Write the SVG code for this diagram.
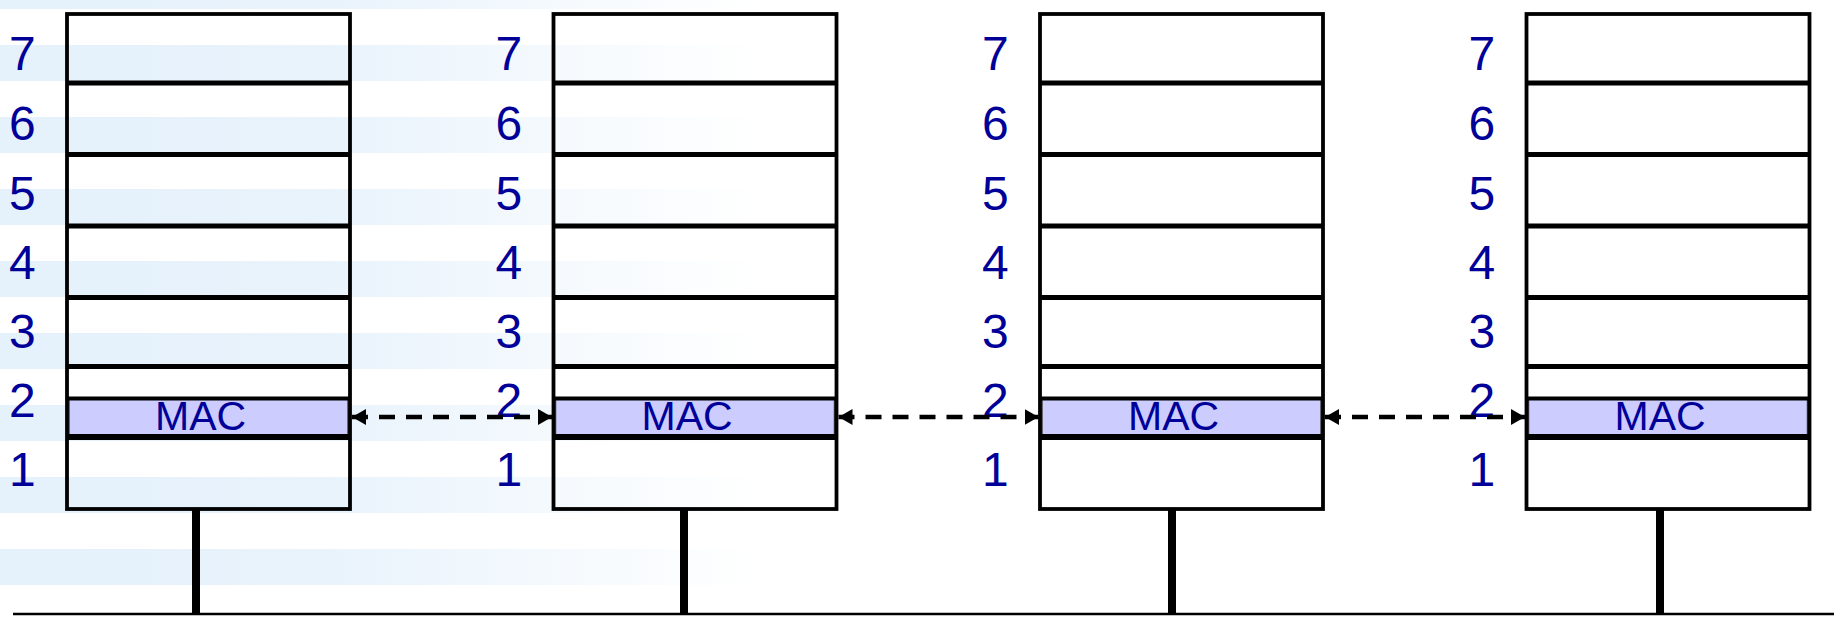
<svg xmlns="http://www.w3.org/2000/svg" width="1834" height="617" viewBox="0 0 1834 617">
  <defs>
    <linearGradient id="stripeFade" gradientUnits="userSpaceOnUse" x1="0" y1="0" x2="760" y2="0">
      <stop offset="0" stop-color="#e5f1fb" stop-opacity="1"/>
      <stop offset="0.4" stop-color="#e5f1fb" stop-opacity="0.9"/>
      <stop offset="0.7" stop-color="#e5f1fb" stop-opacity="0.45"/>
      <stop offset="1" stop-color="#e5f1fb" stop-opacity="0"/>
    </linearGradient>
    <marker id="arrowHead" viewBox="0 0 14 16" refX="14" refY="8" markerWidth="14" markerHeight="16" markerUnits="userSpaceOnUse" orient="auto-start-reverse">
      <path d="M0,0 L14,8 L0,16 Z" fill="#000"/>
    </marker>
  </defs>
  <style>
    .frame { fill: none; stroke: #000; stroke-width: 3.8; }
    .div { stroke: #000; stroke-width: 5; }
    .macband { fill: #ccccff; stroke: #444; stroke-width: 1.5; }
    .mactop { stroke: #000; stroke-width: 4; }
    .macline { stroke: #000; stroke-width: 6; }
    .num { font-family: "Liberation Sans", Arial, sans-serif; font-size: 48px; fill: #000099; }
    .mac { font-family: "Liberation Sans", Arial, sans-serif; font-size: 41px; fill: #000099; }
    .stem { stroke: #000; stroke-width: 8; }
    .bus { stroke: #000; stroke-width: 2.5; }
    .link { stroke: #000; stroke-width: 4.5; stroke-dasharray: 16 11; fill: none; }
  </style>

  <rect x="0" y="0" width="1834" height="617" fill="#ffffff"/>

  <!-- background stripes, fading to the right -->
  <g id="background" fill="url(#stripeFade)">
    <rect x="0" y="-27" width="780" height="36"/>
    <rect x="0" y="45" width="780" height="36"/>
    <rect x="0" y="117" width="780" height="36"/>
    <rect x="0" y="189" width="780" height="36"/>
    <rect x="0" y="261" width="780" height="36"/>
    <rect x="0" y="333" width="780" height="36"/>
    <rect x="0" y="405" width="780" height="36"/>
    <rect x="0" y="477" width="780" height="36"/>
    <rect x="0" y="549" width="780" height="36"/>
  </g>

  <!-- bus line -->
  <line class="bus" x1="13" y1="614" x2="1834" y2="614"/>

  <!-- station 1 -->
  <g id="station1">
    <line class="stem" x1="196" y1="509" x2="196" y2="614"/>
    <rect class="macband" x="69" y="399" width="279" height="37"/>
    <line class="div" x1="67" y1="83" x2="350" y2="83"/>
    <line class="div" x1="67" y1="154.5" x2="350" y2="154.5"/>
    <line class="div" x1="67" y1="226" x2="350" y2="226"/>
    <line class="div" x1="67" y1="297.5" x2="350" y2="297.5"/>
    <line class="div" x1="67" y1="366.5" x2="350" y2="366.5"/>
    <line class="mactop" x1="67" y1="398.5" x2="350" y2="398.5"/>
    <line class="macline" x1="67" y1="437" x2="350" y2="437"/>
    <rect class="frame" x="67" y="14" width="283" height="495"/>
    <text class="mac" x="155" y="430">MAC</text>
    <text class="num" x="9" y="70">7</text>
    <text class="num" x="9" y="140">6</text>
    <text class="num" x="9" y="210">5</text>
    <text class="num" x="9" y="279">4</text>
    <text class="num" x="9" y="348">3</text>
    <text class="num" x="9" y="417">2</text>
    <text class="num" x="9" y="486">1</text>
  </g>

  <!-- station 2 -->
  <g id="station2" transform="translate(486.5,0)">
    <line class="stem" x1="197.5" y1="509" x2="197.5" y2="614"/>
    <rect class="macband" x="69" y="399" width="279" height="37"/>
    <line class="div" x1="67" y1="83" x2="350" y2="83"/>
    <line class="div" x1="67" y1="154.5" x2="350" y2="154.5"/>
    <line class="div" x1="67" y1="226" x2="350" y2="226"/>
    <line class="div" x1="67" y1="297.5" x2="350" y2="297.5"/>
    <line class="div" x1="67" y1="366.5" x2="350" y2="366.5"/>
    <line class="mactop" x1="67" y1="398.5" x2="350" y2="398.5"/>
    <line class="macline" x1="67" y1="437" x2="350" y2="437"/>
    <rect class="frame" x="67" y="14" width="283" height="495"/>
    <text class="mac" x="155" y="430">MAC</text>
    <text class="num" x="9" y="70">7</text>
    <text class="num" x="9" y="140">6</text>
    <text class="num" x="9" y="210">5</text>
    <text class="num" x="9" y="279">4</text>
    <text class="num" x="9" y="348">3</text>
    <text class="num" x="9" y="417">2</text>
    <text class="num" x="9" y="486">1</text>
  </g>

  <!-- station 3 -->
  <g id="station3" transform="translate(973,0)">
    <line class="stem" x1="199" y1="509" x2="199" y2="614"/>
    <rect class="macband" x="69" y="399" width="279" height="37"/>
    <line class="div" x1="67" y1="83" x2="350" y2="83"/>
    <line class="div" x1="67" y1="154.5" x2="350" y2="154.5"/>
    <line class="div" x1="67" y1="226" x2="350" y2="226"/>
    <line class="div" x1="67" y1="297.5" x2="350" y2="297.5"/>
    <line class="div" x1="67" y1="366.5" x2="350" y2="366.5"/>
    <line class="mactop" x1="67" y1="398.5" x2="350" y2="398.5"/>
    <line class="macline" x1="67" y1="437" x2="350" y2="437"/>
    <rect class="frame" x="67" y="14" width="283" height="495"/>
    <text class="mac" x="155" y="430">MAC</text>
    <text class="num" x="9" y="70">7</text>
    <text class="num" x="9" y="140">6</text>
    <text class="num" x="9" y="210">5</text>
    <text class="num" x="9" y="279">4</text>
    <text class="num" x="9" y="348">3</text>
    <text class="num" x="9" y="417">2</text>
    <text class="num" x="9" y="486">1</text>
  </g>

  <!-- station 4 -->
  <g id="station4" transform="translate(1459.5,0)">
    <line class="stem" x1="200.5" y1="509" x2="200.5" y2="614"/>
    <rect class="macband" x="69" y="399" width="279" height="37"/>
    <line class="div" x1="67" y1="83" x2="350" y2="83"/>
    <line class="div" x1="67" y1="154.5" x2="350" y2="154.5"/>
    <line class="div" x1="67" y1="226" x2="350" y2="226"/>
    <line class="div" x1="67" y1="297.5" x2="350" y2="297.5"/>
    <line class="div" x1="67" y1="366.5" x2="350" y2="366.5"/>
    <line class="mactop" x1="67" y1="398.5" x2="350" y2="398.5"/>
    <line class="macline" x1="67" y1="437" x2="350" y2="437"/>
    <rect class="frame" x="67" y="14" width="283" height="495"/>
    <text class="mac" x="155" y="430">MAC</text>
    <text class="num" x="9" y="70">7</text>
    <text class="num" x="9" y="140">6</text>
    <text class="num" x="9" y="210">5</text>
    <text class="num" x="9" y="279">4</text>
    <text class="num" x="9" y="348">3</text>
    <text class="num" x="9" y="417">2</text>
    <text class="num" x="9" y="486">1</text>
  </g>

  <!-- peer-to-peer MAC links -->
  <g id="connectors">
    <line class="link" x1="352" y1="417" x2="552" y2="417" marker-start="url(#arrowHead)" marker-end="url(#arrowHead)"/>
    <line class="link" x1="838.5" y1="417" x2="1038.5" y2="417" marker-start="url(#arrowHead)" marker-end="url(#arrowHead)"/>
    <line class="link" x1="1325" y1="417" x2="1525" y2="417" marker-start="url(#arrowHead)" marker-end="url(#arrowHead)"/>
  </g>
</svg>
